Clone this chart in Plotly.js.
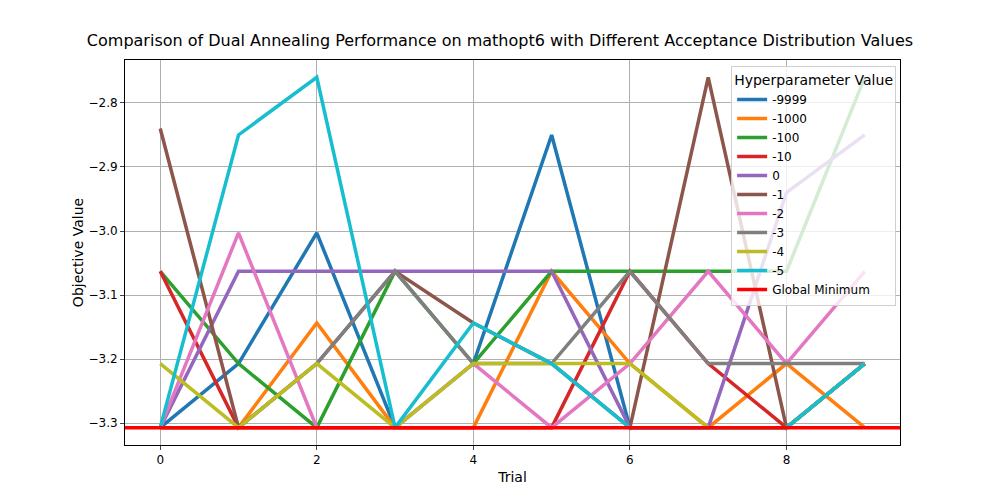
<!DOCTYPE html>
<html>
<head>
<script src="https://cdn.plot.ly/plotly-3.0.1.min.js"></script>
<style>body{margin:0}</style>
</head>
<body>
<div id="chart" style="width:1000px;height:500px"></div>
<script>
// Trials 0..9, objective value per hyperparameter
const trials = [0, 1, 2, 3, 4, 5, 6, 7, 8, 9];
const names = ['-9999', '-1000', '-100', '-10', '0', '-1', '-2', '-3', '-4', '-5'];
const colors = ['#1f77b4', '#ff7f0e', '#2ca02c', '#d62728', '#9467bd', '#8c564b', '#e377c2', '#7f7f7f', '#bcbd22', '#17becf'];
const vals = [
  [-3.3069, -3.2069, -3.0028, -3.3069, -3.2069, -2.85, -3.3069, -3.3069, -3.3069, -3.2069],
  [-3.3069, -3.3069, -3.1436, -3.3069, -3.3069, -3.0628, -3.2069, -3.3069, -3.2069, -3.3069],
  [-3.0628, -3.2069, -3.3069, -3.0628, -3.2069, -3.0628, -3.0628, -3.0628, -3.0628, -2.76],
  [-3.0628, -3.3069, -3.3069, -3.3069, -3.3069, -3.3069, -3.0628, -3.2069, -3.3069, -3.2069],
  [-3.3069, -3.0628, -3.0628, -3.0628, -3.0628, -3.0628, -3.3069, -3.3069, -2.94, -2.85],
  [-2.84, -3.3069, -3.2069, -3.0628, -3.1436, -3.2069, -3.3069, -2.76, -3.3069, -3.2069],
  [-3.3069, -3.0028, -3.3069, -3.3069, -3.2069, -3.3069, -3.2069, -3.0628, -3.2069, -3.0628],
  [-3.3069, -3.3069, -3.2069, -3.0628, -3.2069, -3.2069, -3.0628, -3.2069, -3.2069, -3.2069],
  [-3.2069, -3.3069, -3.2069, -3.3069, -3.2069, -3.2069, -3.2069, -3.3069, -3.3069, -3.2069],
  [-3.3069, -2.85, -2.76, -3.3069, -3.1436, -3.2069, -3.3069, -3.3069, -3.3069, -3.2069]
];
const globalMin = -3.3069;

const traces = names.map((n, i) => ({
  x: trials, y: vals[i], mode: 'lines', name: n,
  line: {color: colors[i], width: 3.5}
}));
traces.push({
  x: [-0.45, 9.45], y: [globalMin, globalMin], mode: 'lines', name: 'Global Minimum',
  line: {color: 'red', width: 3.5}
});

Plotly.newPlot('chart', traces, {
  width: 1000, height: 500,
  margin: {l: 125, r: 100, t: 60, b: 55},
  paper_bgcolor: 'white', plot_bgcolor: 'white',
  font: {family: 'DejaVu Sans', size: 12, color: 'black'},
  title: {text: 'Comparison of Dual Annealing Performance on mathopt6 with Different Acceptance Distribution Values',
    x: 0.5, xanchor: 'center', y: 0.93, font: {size: 16}},
  xaxis: {title: {text: 'Trial', standoff: 5}, range: [-0.45, 9.45], tickvals: [0, 2, 4, 6, 8],
    showgrid: true, gridcolor: '#b0b0b0', zeroline: false, showline: true, linecolor: 'black', mirror: true,
    ticks: 'outside', ticklen: 4},
  yaxis: {title: {text: 'Objective Value'}, range: [-3.334, -2.733], dtick: 0.1, tickformat: '.1f',
    showgrid: true, gridcolor: '#b0b0b0', zeroline: false, showline: true, linecolor: 'black', mirror: true,
    ticks: 'outside', ticklen: 4},
  legend: {title: {text: 'Hyperparameter Value'}, x: 0.995, y: 0.985, xanchor: 'right', yanchor: 'top',
    bgcolor: 'rgba(255,255,255,0.8)', bordercolor: '#d0d0d0', borderwidth: 1, tracegroupgap: 0},
  showlegend: true
}, {displayModeBar: false});
</script>
</body>
</html>
